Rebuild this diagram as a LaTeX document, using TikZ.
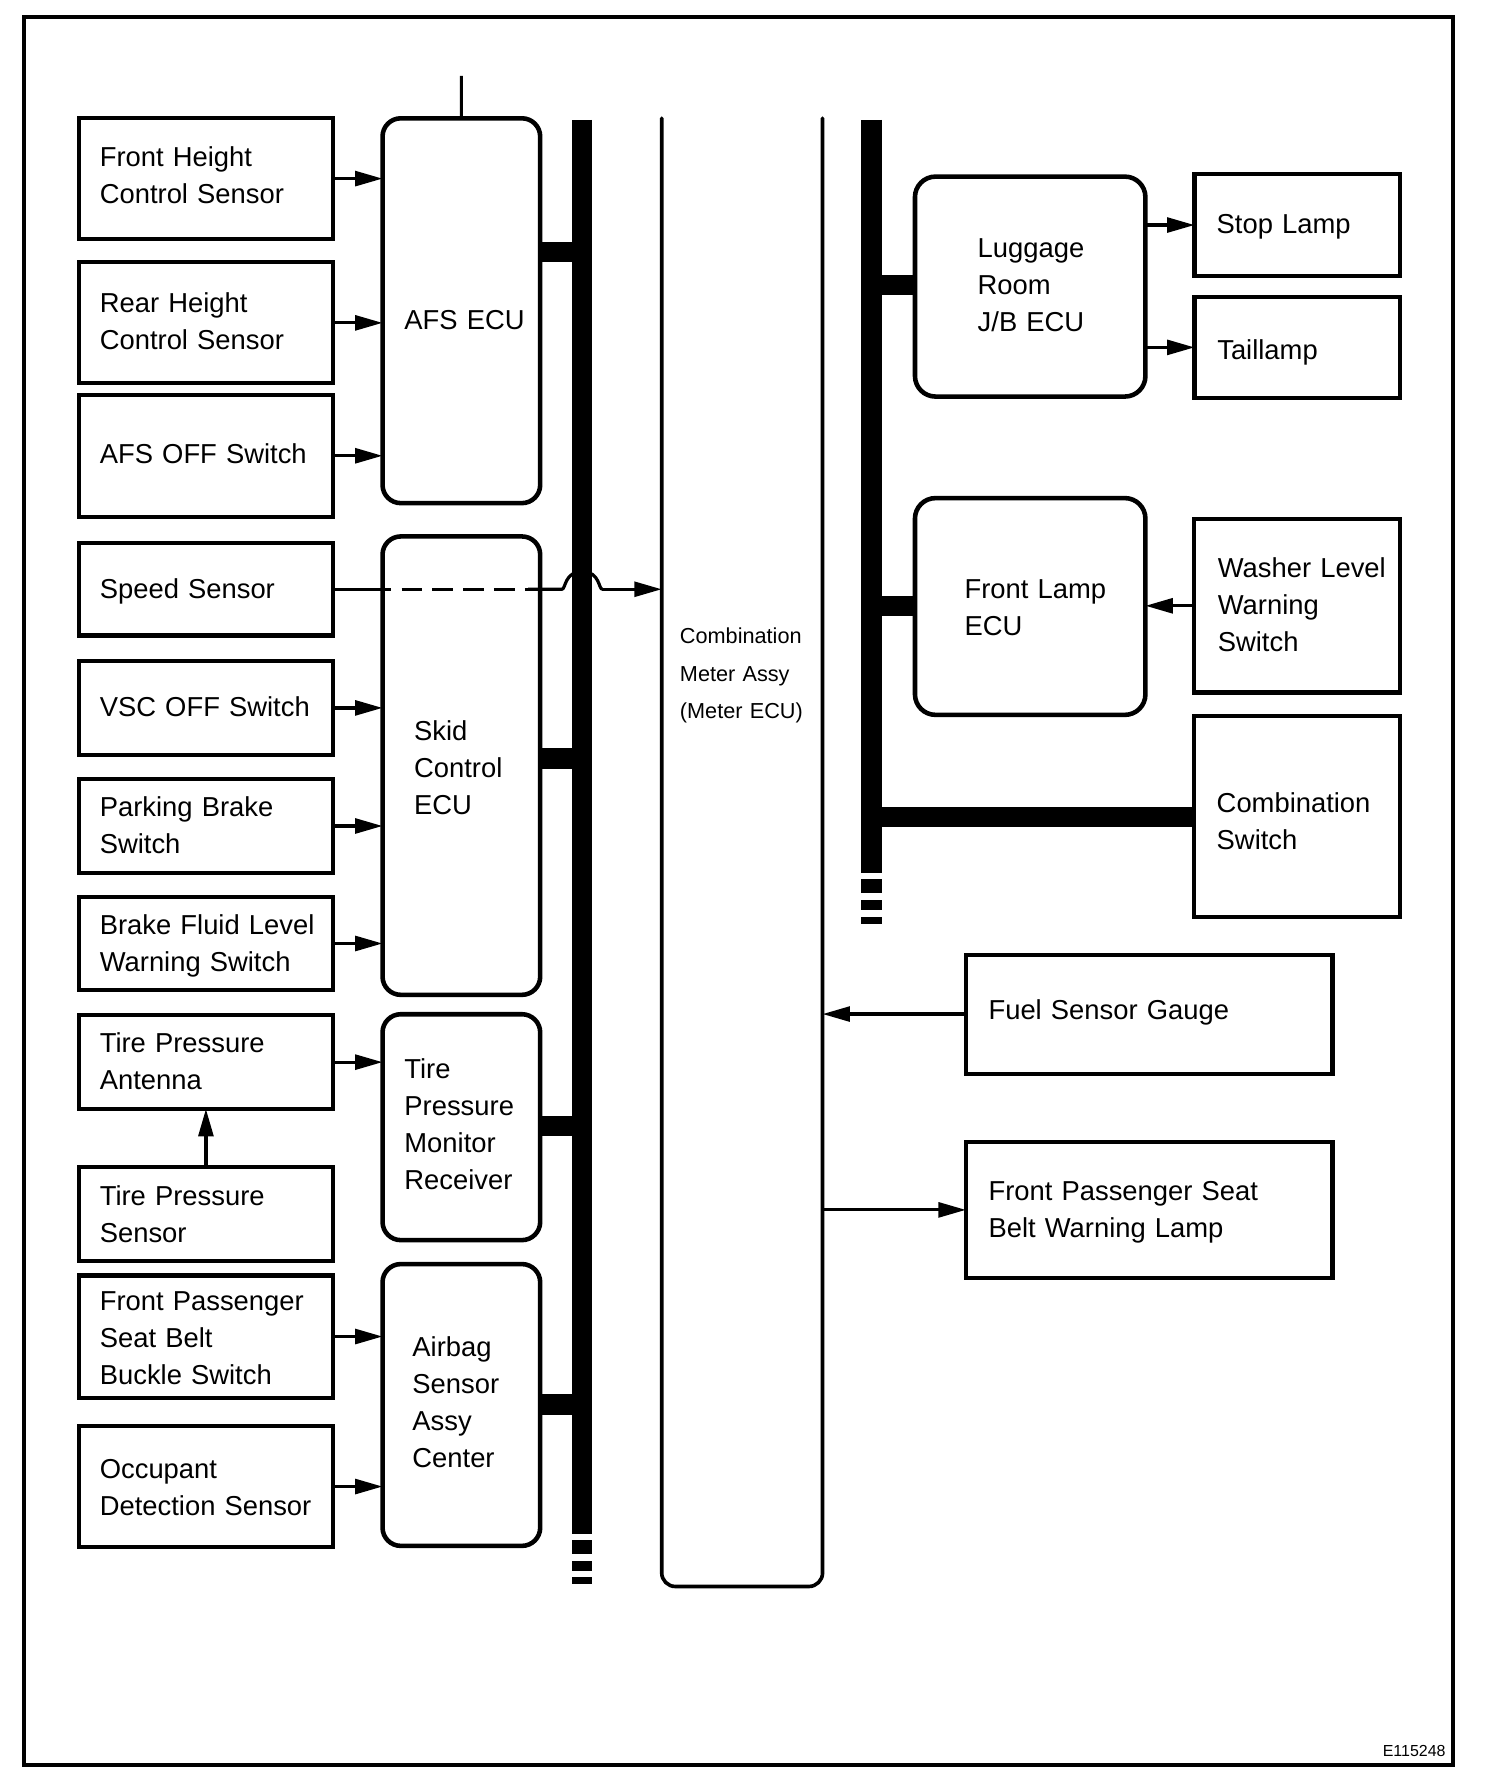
\documentclass[tikz,border=0pt]{standalone}
\usepackage{fontspec}
\setmainfont{Liberation Sans}
\usetikzlibrary{arrows.meta}
\newcommand\BX[6]{\node[#1,minimum width={(#5-#3)*0.5pt},minimum height={(#6-#4)*0.5pt},anchor=north west] (#2) at (#3,#4) {};}
\begin{document}
\begin{tikzpicture}[x=0.5pt,y=-0.5pt,
  box/.style={draw,line width=1.8pt,rectangle,inner sep=0pt,outer sep=0pt},
  ecu/.style={draw,line width=2pt,rectangle,rounded corners=8pt,inner sep=0pt,outer sep=0pt},
  recu/.style={ecu,rounded corners=9pt},
  txt/.style={inner sep=0pt,outer sep=0pt,align=left,text width=150pt,font=\fontsize{12}{16.2}\selectfont,anchor=base west},
  mtxt/.style={txt,font=\fontsize{9.5}{16.4}\selectfont},
  conn/.style={line width=1.4pt},
  arr/.style={conn,-{Triangle[length=12pt,width=6.5pt]}},
  busline/.style={line width=9pt},
]
\useasboundingbox (0,0) rectangle (1318.3,1569);
% outer frame
\draw[line width=1.8pt] (21,14.6) rectangle (1273.3,1547.2);

% left column boxes
\BX{box}{fh}{69}{103.7}{292}{209.4}
\BX{box}{rh}{69}{230}{292}{336}
\BX{box}{afsoff}{69}{346}{292}{453}
\BX{box}{sp}{69}{476}{292}{557}
\BX{box}{vsc}{69}{579}{292}{662}
\BX{box}{pb}{69}{683}{292}{765}
\BX{box}{bf}{69}{786}{292}{868}
\BX{box}{tpa}{69}{890}{292}{972}
\BX{box}{tps}{69}{1023}{292}{1105}
\BX{box}{fpsb}{69}{1118}{292}{1225}
\BX{box}{occ}{69}{1250}{292}{1356}

\node[txt] (fh-t) at (87.5,146.2) {Front Height\\Control Sensor};
\node[txt] (rh-t) at (87.5,274) {Rear Height\\Control Sensor};
\node[txt] (afsoff-t) at (87.5,406) {AFS OFF Switch};
\node[txt] (sp-t) at (87.5,525) {Speed Sensor};
\node[txt] (vsc-t) at (87.5,628) {VSC OFF Switch};
\node[txt] (pb-t) at (87.5,716) {Parking Brake\\Switch};
\node[txt] (bf-t) at (87.5,819) {Brake Fluid Level\\Warning Switch};
\node[txt] (tpa-t) at (87.5,922.4) {Tire Pressure\\Antenna};
\node[txt] (tps-t) at (87.5,1056.7) {Tire Pressure\\Sensor};
\node[txt] (fpsb-t) at (87.5,1149) {Front Passenger\\Seat Belt\\Buckle Switch};
\node[txt] (occ-t) at (87.5,1296) {Occupant\\Detection Sensor};

% left ECUs
\BX{ecu}{afs}{335.3}{103.7}{473.5}{441}
\BX{ecu}{skid}{335.3}{470.2}{473.5}{872}
\BX{ecu}{tpmr}{335.3}{889}{473.5}{1087}
\BX{ecu}{abag}{335.3}{1108}{473.5}{1355}

\node[txt] (afs-t) at (354.5,288.7) {AFS ECU};
\node[txt] (skid-t) at (363,649) {Skid\\Control\\ECU};
\node[txt] (tpmr-t) at (354.5,945) {Tire\\Pressure\\Monitor\\Receiver};
\node[txt] (abag-t) at (361.5,1189) {Airbag\\Sensor\\Assy\\Center};

% line above AFS ECU
\coordinate (afsup) at (404.4,66.6);
\draw[conn,line width=1.25pt] (afs.north) -- (afsup);

% arrows into left ECUs
\draw[arr] (fh.east) -- (fh.east -| afs.west);
\draw[arr] (rh.east) -- (rh.east -| afs.west);
\draw[arr] (afsoff.east) -- (afsoff.east -| afs.west);
\draw[arr] (vsc.east) -- (vsc.east -| skid.west);
\draw[arr] (pb.east) -- (pb.east -| skid.west);
\draw[arr] (bf.east) -- (bf.east -| skid.west);
\draw[arr] (tpa.east) -- (tpa.east -| tpmr.west);
\draw[arr] (tps.north) -- (tpa.south);
\draw[arr] (fpsb.east) -- (fpsb.east -| abag.west);
\draw[arr] (occ.east) -- (occ.east -| abag.west);

% left bus
\coordinate (bLt) at (510.3,105);
\coordinate (bLb) at (510.3,1344.5);
\draw[busline] (bLt) -- (bLb);
\fill (501.3,1349.9) rectangle (519.3,1361.9);
\fill (501.3,1367.9) rectangle (519.3,1376.7);
\fill (501.3,1382) rectangle (519.3,1388.5);
\coordinate (bL1) at (510.3,221);
\coordinate (bL2) at (510.3,665);
\coordinate (bL3) at (510.3,987);
\coordinate (bL4) at (510.3,1231);
\draw[busline] (afs.east |- bL1) -- (bL1);
\draw[busline] (skid.east |- bL2) -- (bL2);
\draw[busline] (tpmr.east |- bL3) -- (bL3);
\draw[busline] (abag.east |- bL4) -- (bL4);

% combination meter
\node[minimum width={(721-580)*0.5pt},minimum height={(1390.6-103.6)*0.5pt},anchor=north west,inner sep=0pt,outer sep=0pt] (meter) at (580,103.6) {};
\draw[line width=1.6pt,line cap=round,rounded corners=6pt] (meter.north west) -- (meter.south west) -- (meter.south east) -- (meter.north east);
\node[mtxt] (meter-t) at (596,564.3) {Combination\\Meter Assy\\(Meter ECU)};

% speed sensor line with hop over the bus
\coordinate (dA) at (343,516.5);
\coordinate (dB) at (463,516.5);
\coordinate (hopL) at (492.5,516.5);
\coordinate (hopT) at (510.3,501);
\coordinate (hopR) at (528,516.5);
\draw[conn] (sp.east) -- (dA);
\draw[conn,dash pattern=on 9pt off 4.5pt,dash phase=9pt] (dA) -- (dB);
\draw[conn] (dB) -- (hopL) .. controls (496,516.5) and (494.5,501) .. (hopT) .. controls (526,501) and (524.5,516.5) .. (hopR);
\draw[arr] (hopR) -- (hopR -| meter.west);

% right bus
\coordinate (bRt) at (764,105);
\coordinate (bRb) at (764,765);
\draw[busline] (bRt) -- (bRb);
\fill (755,770.5) rectangle (773,782.5);
\fill (755,788.5) rectangle (773,797.5);
\fill (755,803.5) rectangle (773,810);

% right side ECUs and boxes
\BX{recu}{lug}{802}{154.8}{1004}{347.6}
\BX{recu}{flamp}{802}{436.6}{1004}{626.6}
\BX{box}{stop}{1047}{152.5}{1227.5}{242}
\BX{box}{tail}{1047}{260}{1227.5}{349}
\BX{box}{washer}{1046.5}{455}{1227.5}{607}
\BX{box}{cs}{1046.5}{627.5}{1227.5}{803.4}
\BX{box}{fuel}{846.6}{836.7}{1168}{941}
\BX{box}{lamp}{846.6}{1001}{1168}{1120}

\node[txt] (lug-t) at (857,226) {Luggage\\Room\\J/B ECU};
\node[txt] (flamp-t) at (845.5,525) {Front Lamp\\ECU};
\node[txt] (stop-t) at (1066.5,205) {Stop Lamp};
\node[txt] (tail-t) at (1067,315) {Taillamp};
\node[txt] (washer-t) at (1067.5,506) {Washer Level\\Warning\\Switch};
\node[txt] (cs-t) at (1066.5,712) {Combination\\Switch};
\node[txt] (fuel-t) at (866.5,894) {Fuel Sensor Gauge};
\node[txt] (lamp-t) at (866.5,1052.4) {Front Passenger Seat\\Belt Warning Lamp};

\coordinate (bR1) at (764,250);
\coordinate (bR2) at (764,531);
\coordinate (bR3) at (764,716);
\draw[busline] (bR1) -- (bR1 -| lug.west);
\draw[busline] (bR2) -- (bR2 -| flamp.west);
\draw[busline] (bR3) -- (bR3 -| cs.west);

\draw[arr] (stop.west -| lug.east) -- (stop.west);
\draw[arr] (tail.west -| lug.east) -- (tail.west);
\draw[arr] (washer.west) -- (washer.west -| flamp.east);
\draw[arr] (fuel.west) -- (fuel.west -| meter.east);
\draw[arr] (lamp.west -| meter.east) -- (lamp.west);

\node[font=\fontsize{7}{8}\selectfont,anchor=base east,inner sep=0pt] (code) at (1267.5,1539.5) {E115248};
\end{tikzpicture}
\end{document}
